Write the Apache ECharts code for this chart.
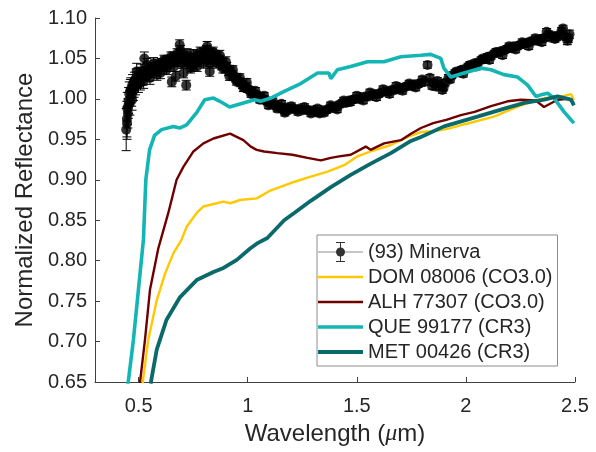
<!DOCTYPE html>
<html>
<head>
<meta charset="utf-8">
<title>Minerva reflectance</title>
<script src="https://cdn.jsdelivr.net/npm/echarts@6/dist/echarts.min.js"></script>
<style>
  html, body { margin: 0; padding: 0; background: #fff; }
  #chart { width: 596px; height: 452px; }
</style>
</head>
<body>
<div id="chart"></div>
<script>
// (93) Minerva: wavelength, normalized reflectance, error
const minervaWl = [0.443, 0.446, 0.448, 0.451, 0.454, 0.457, 0.460, 0.464, 0.468, 0.472, 0.476, 0.481, 0.486, 0.491, 0.496,
  0.502, 0.508, 0.514, 0.520, 0.526, 0.532, 0.540, 0.548, 0.556, 0.564, 0.572, 0.580, 0.588, 0.596, 0.604, 0.612, 0.620,
  0.628, 0.636, 0.644, 0.652, 0.658, 0.664, 0.670, 0.676, 0.682, 0.688, 0.694, 0.700, 0.706, 0.712, 0.718, 0.724, 0.730,
  0.736, 0.742, 0.748, 0.754, 0.760, 0.766, 0.772, 0.778, 0.784, 0.790, 0.796, 0.802, 0.808, 0.814, 0.820, 0.826, 0.832,
  0.838, 0.844, 0.850, 0.856, 0.862, 0.868, 0.874, 0.880, 0.888, 0.896, 0.904, 0.912, 0.920, 0.928, 0.936, 0.944, 0.952,
  0.960, 0.968, 0.976, 0.984, 0.992, 1.000, 1.010, 1.020, 1.030, 1.040, 1.050, 1.060, 1.070, 1.080, 1.090, 1.100, 1.110,
  1.120, 1.130, 1.140, 1.150, 1.160, 1.170, 1.180, 1.195, 1.210, 1.225, 1.240, 1.255, 1.270, 1.285, 1.300, 1.315, 1.330,
  1.345, 1.360, 1.375, 1.390, 1.405, 1.420, 1.435, 1.450, 1.465, 1.480, 1.495, 1.510, 1.525, 1.540, 1.555, 1.570, 1.585,
  1.600, 1.615, 1.630, 1.645, 1.660, 1.675, 1.690, 1.705, 1.720, 1.735, 1.750, 1.765, 1.780, 1.795, 1.810, 1.824, 1.835,
  1.850, 1.865, 1.880, 1.892, 1.905, 1.920, 1.935, 1.950, 1.965, 1.980, 1.995, 2.010, 2.025, 2.040, 2.055, 2.070, 2.085,
  2.100, 2.115, 2.130, 2.145, 2.160, 2.175, 2.190, 2.205, 2.220, 2.235, 2.250, 2.265, 2.280, 2.295, 2.310, 2.325, 2.340,
  2.355, 2.370, 2.385, 2.400, 2.415, 2.430, 2.445, 2.455, 2.465, 2.475,
  // second pass of readings through the dense band (scatter above/below the centre)
  0.447, 0.453, 0.462, 0.470, 0.479, 0.489, 0.499, 0.511, 0.523, 0.537, 0.552, 0.568, 0.584, 0.600, 0.616, 0.632, 0.648,
  0.662, 0.678, 0.692, 0.708, 0.722, 0.738, 0.752, 0.768, 0.782, 0.798, 0.812, 0.828, 0.842, 0.858, 0.872, 0.886, 0.900,
  0.916, 0.932, 0.948, 0.964, 0.980, 0.996, 1.015, 1.035, 1.055, 1.075, 1.095, 1.115, 1.135, 1.155, 1.175, 1.200, 1.230,
  1.260, 1.290, 1.320, 1.350, 1.380, 1.410, 1.440, 1.470, 1.500, 1.530, 1.560, 1.590, 1.620, 1.650, 1.680, 1.710, 1.740,
  1.770, 1.800, 1.845, 1.870, 1.898, 1.928, 1.958, 1.988, 2.018, 2.048, 2.078, 2.108, 2.138, 2.168, 2.198, 2.228, 2.258,
  2.288, 2.318, 2.348, 2.378, 2.408, 2.438, 2.470];
const minervaRefl = [0.962, 0.975, 0.988, 0.982, 0.998, 1.006, 0.995, 1.012, 1.004, 1.018, 1.010, 1.022, 1.016, 1.034, 1.024,
  1.028, 1.020, 1.030, 1.026, 1.050, 1.032, 1.036, 1.030, 1.038, 1.034, 1.040, 1.036, 1.042, 1.038, 1.044, 1.040, 1.046,
  1.036, 1.048, 1.044, 1.021, 1.052, 1.046, 1.028, 1.056, 1.050, 1.067, 1.054, 1.044, 1.032, 1.052, 1.017, 1.048, 1.044,
  1.050, 1.040, 1.046, 1.042, 1.050, 1.046, 1.052, 1.048, 1.054, 1.050, 1.056, 1.052, 1.058, 1.065, 1.048, 1.034, 1.052,
  1.056, 1.050, 1.054, 1.048, 1.052, 1.046, 1.048, 1.042, 1.044, 1.038, 1.040, 1.034, 1.034, 1.030, 1.028, 1.026, 1.024,
  1.021, 1.020, 1.018, 1.015, 1.015, 1.012, 1.011, 1.008, 1.006, 1.005, 1.002, 1.002, 1.000, 0.998, 0.997, 0.995, 0.994,
  0.993, 0.991, 0.991, 0.990, 0.987, 0.983, 0.989, 0.987, 0.988, 0.987, 0.988, 0.986, 0.987, 0.985, 0.986, 0.984, 0.982,
  0.986, 0.986, 0.988, 0.990, 0.990, 0.993, 0.995, 0.995, 0.998, 0.999, 1.000, 1.000, 1.002, 1.003, 1.003, 1.005, 1.006,
  1.006, 1.008, 1.009, 1.009, 1.011, 1.011, 1.013, 1.013, 1.015, 1.016, 1.016, 1.018, 1.018, 1.020, 1.021, 1.042, 1.026,
  1.020, 1.015, 1.018, 1.011, 1.020, 1.026, 1.029, 1.032, 1.033, 1.036, 1.037, 1.040, 1.041, 1.044, 1.045, 1.048, 1.049,
  1.052, 1.053, 1.056, 1.057, 1.059, 1.060, 1.062, 1.063, 1.065, 1.065, 1.067, 1.068, 1.069, 1.071, 1.072, 1.072, 1.074,
  1.075, 1.083, 1.076, 1.078, 1.076, 1.079, 1.087, 1.077, 1.072, 1.080,
  0.970, 0.992, 1.010, 0.999, 1.014, 1.026, 1.018, 1.034, 1.022, 1.042, 1.026, 1.044, 1.030, 1.032, 1.048, 1.040, 1.052,
  1.040, 1.046, 1.060, 1.046, 1.056, 1.038, 1.055, 1.040, 1.058, 1.044, 1.060, 1.044, 1.058, 1.044, 1.054, 1.038, 1.046,
  1.028, 1.036, 1.022, 1.026, 1.014, 1.020, 1.006, 1.010, 0.999, 1.004, 0.992, 0.997, 0.988, 0.994, 0.985, 0.991, 0.984,
  0.990, 0.982, 0.988, 0.983, 0.992, 0.987, 0.998, 0.996, 1.004, 0.998, 1.008, 1.002, 1.012, 1.006, 1.016, 1.010, 1.019,
  1.014, 1.024, 1.016, 1.022, 1.014, 1.024, 1.034, 1.031, 1.042, 1.040, 1.050, 1.048, 1.058, 1.054, 1.065, 1.061, 1.070,
  1.065, 1.075, 1.070, 1.080, 1.074, 1.084, 1.075];
const minervaErr = [0.026, 0.022, 0.020, 0.018, 0.016, 0.015, 0.015, 0.014, 0.013, 0.012, 0.012, 0.011, 0.011, 0.010, 0.010,
  0.010, 0.009, 0.009, 0.009, 0.008, 0.008, 0.008, 0.008, 0.007, 0.007, 0.007, 0.007, 0.007, 0.007, 0.006, 0.006, 0.006,
  0.006, 0.006, 0.006, 0.006, 0.006, 0.006, 0.006, 0.006, 0.006, 0.006, 0.006, 0.006, 0.006, 0.006, 0.006, 0.006, 0.006,
  0.006, 0.006, 0.006, 0.006, 0.006, 0.006, 0.006, 0.006, 0.006, 0.006, 0.006, 0.006, 0.006, 0.006, 0.006, 0.006, 0.006,
  0.006, 0.006, 0.006, 0.006, 0.006, 0.006, 0.006, 0.006, 0.006, 0.006, 0.005, 0.005, 0.005, 0.005, 0.005, 0.005, 0.005,
  0.005, 0.005, 0.005, 0.005, 0.005, 0.004, 0.004, 0.004, 0.004, 0.004, 0.004, 0.004, 0.004, 0.004, 0.004, 0.004, 0.004,
  0.004, 0.004, 0.004, 0.004, 0.004, 0.004, 0.004, 0.004, 0.004, 0.004, 0.004, 0.004, 0.004, 0.004, 0.004, 0.004, 0.004,
  0.004, 0.004, 0.004, 0.004, 0.004, 0.004, 0.004, 0.004, 0.004, 0.004, 0.004, 0.004, 0.004, 0.004, 0.004, 0.004, 0.004,
  0.004, 0.004, 0.004, 0.004, 0.004, 0.004, 0.004, 0.004, 0.004, 0.004, 0.004, 0.004, 0.004, 0.004, 0.004, 0.004, 0.004,
  0.004, 0.004, 0.004, 0.004, 0.004, 0.004, 0.004, 0.004, 0.004, 0.004, 0.004, 0.004, 0.004, 0.004, 0.004, 0.004, 0.004,
  0.004, 0.004, 0.004, 0.004, 0.004, 0.004, 0.004, 0.004, 0.004, 0.004, 0.004, 0.004, 0.004, 0.004, 0.004, 0.004, 0.004,
  0.004, 0.004, 0.004, 0.004, 0.004, 0.004, 0.004, 0.004, 0.005, 0.005,
  0.020, 0.016, 0.014, 0.013, 0.012, 0.011, 0.010, 0.009, 0.009, 0.008, 0.008, 0.007, 0.007, 0.007, 0.006, 0.006, 0.006,
  0.006, 0.006, 0.006, 0.006, 0.006, 0.006, 0.006, 0.006, 0.006, 0.006, 0.006, 0.006, 0.006, 0.006, 0.006, 0.006, 0.006,
  0.005, 0.005, 0.005, 0.005, 0.005, 0.005, 0.004, 0.004, 0.004, 0.004, 0.004, 0.004, 0.004, 0.004, 0.004, 0.004, 0.004,
  0.004, 0.004, 0.004, 0.004, 0.004, 0.004, 0.004, 0.004, 0.004, 0.004, 0.004, 0.004, 0.004, 0.004, 0.004, 0.004, 0.004,
  0.004, 0.004, 0.004, 0.004, 0.004, 0.004, 0.004, 0.004, 0.004, 0.004, 0.004, 0.004, 0.004, 0.004, 0.004, 0.004, 0.004,
  0.004, 0.004, 0.004, 0.004, 0.004, 0.004, 0.005];

// DOM 08006 (CO3.0)
const domWl = [0.518, 0.544, 0.583, 0.621, 0.659, 0.697, 0.720, 0.766, 0.797, 0.858, 0.889, 0.920, 0.965, 1.041, 1.106,
  1.197, 1.289, 1.366, 1.442, 1.503, 1.564, 1.656, 1.733, 1.794, 1.850, 1.916, 2.000, 2.128, 2.252, 2.358, 2.440, 2.482, 2.495];
const domRefl = [0.648, 0.702, 0.751, 0.784, 0.809, 0.826, 0.842, 0.859, 0.867, 0.871, 0.873, 0.871, 0.875, 0.877, 0.887,
  0.896, 0.904, 0.910, 0.918, 0.929, 0.935, 0.943, 0.953, 0.959, 0.960, 0.963, 0.969, 0.978, 0.992, 1.001, 1.003, 1.006, 0.999];

// ALH 77307 (CO3.0)
const alhWl = [0.506, 0.529, 0.552, 0.590, 0.636, 0.674, 0.705, 0.751, 0.797, 0.843, 0.919, 0.980, 1.014, 1.041, 1.075,
  1.136, 1.205, 1.274, 1.335, 1.381, 1.419, 1.472, 1.541, 1.563, 1.625, 1.702, 1.748, 1.794, 1.850, 1.910, 1.977, 2.040,
  2.115, 2.191, 2.252, 2.320, 2.358, 2.420, 2.470, 2.495];
const alhRefl = [0.649, 0.702, 0.764, 0.815, 0.859, 0.900, 0.916, 0.935, 0.945, 0.951, 0.957, 0.949, 0.941, 0.937, 0.935,
  0.933, 0.931, 0.927, 0.924, 0.927, 0.929, 0.931, 0.941, 0.937, 0.945, 0.949, 0.957, 0.964, 0.970, 0.974, 0.980, 0.984,
  0.991, 0.997, 0.999, 0.998, 0.990, 0.999, 1.000, 0.995];

// QUE 99177 (CR3)
const queWl = [0.450, 0.476, 0.499, 0.522, 0.533, 0.550, 0.573, 0.605, 0.659, 0.688, 0.720, 0.766, 0.803, 0.843, 0.872,
  0.917, 0.980, 1.032, 1.060, 1.106, 1.165, 1.243, 1.320, 1.372, 1.381, 1.411, 1.472, 1.549, 1.624, 1.702, 1.794, 1.839,
  1.885, 1.899, 1.931, 1.991, 2.069, 2.115, 2.174, 2.237, 2.283, 2.321, 2.344, 2.375, 2.404, 2.450, 2.495];
const queRefl = [0.645, 0.702, 0.764, 0.826, 0.900, 0.937, 0.955, 0.962, 0.966, 0.964, 0.968, 0.983, 0.999, 1.001, 0.997,
  0.990, 0.995, 0.999, 0.997, 1.001, 1.009, 1.019, 1.032, 1.032, 1.025, 1.036, 1.040, 1.046, 1.046, 1.052, 1.054, 1.055,
  1.050, 1.038, 1.027, 1.032, 1.038, 1.036, 1.030, 1.027, 1.017, 1.003, 1.005, 1.007, 1.001, 0.984, 0.970];

// MET 00426 (CR3)
const metWl = [0.555, 0.583, 0.628, 0.690, 0.766, 0.843, 0.889, 0.950, 1.011, 1.041, 1.090, 1.167, 1.213, 1.289, 1.381,
  1.472, 1.564, 1.656, 1.748, 1.794, 1.900, 2.053, 2.176, 2.268, 2.359, 2.420, 2.482, 2.495];
const metRefl = [0.648, 0.690, 0.727, 0.755, 0.776, 0.786, 0.791, 0.801, 0.815, 0.821, 0.828, 0.850, 0.859, 0.874, 0.891,
  0.906, 0.920, 0.933, 0.948, 0.953, 0.966, 0.978, 0.988, 0.995, 0.999, 1.003, 0.999, 0.992];

const xTicks = [0.5, 1, 1.5, 2, 2.5];

const FONT = '"Liberation Sans", Arial, Helvetica, sans-serif';
const TEXT = '#262626';

const COLORS = { dom: '#FFC800', alh: '#6E0000', que: '#14B5B5', met: '#0A6A6A' };
const WIDTHS = { dom: 2.4, alh: 2.4, que: 3.6, met: 3.8 };

function pairs(xs, ys) {
  return xs.map((x, i) => [x, ys[i]]);
}

function svgIcon(body) {
  const svg = "<svg xmlns='http://www.w3.org/2000/svg' width='45' height='20' viewBox='0 0 45 20'>" + body + '</svg>';
  return 'image://data:image/svg+xml;charset=utf-8,' + encodeURIComponent(svg);
}
function lineIcon(color, width) {
  return svgIcon("<line x1='0' y1='10' x2='45' y2='10' stroke='" + color + "' stroke-width='" + width + "'/>");
}
// errorbar legend: gray line, dot, bar with caps
const minervaIcon = svgIcon(
  "<line x1='0' y1='10' x2='45' y2='10' stroke='#707070' stroke-width='1.2'/>" +
  "<line x1='22.5' y1='0.5' x2='22.5' y2='19.5' stroke='#000' stroke-width='1'/>" +
  "<line x1='18' y1='0.5' x2='27' y2='0.5' stroke='#000' stroke-width='1'/>" +
  "<line x1='18' y1='19.5' x2='27' y2='19.5' stroke='#000' stroke-width='1'/>" +
  "<circle cx='22.5' cy='10' r='4.5' fill='#000'/>");

function renderErrorBar(params, api) {
  const x = api.value(0), y = api.value(1), e = api.value(2);
  const top = api.coord([x, y + e]);
  const bot = api.coord([x, y - e]);
  const w = 4.5;
  const style = { stroke: '#000', lineWidth: 1 };
  return {
    type: 'group',
    children: [
      { type: 'line', shape: { x1: top[0], y1: top[1], x2: bot[0], y2: bot[1] }, style: style },
      { type: 'line', shape: { x1: top[0] - w, y1: top[1], x2: top[0] + w, y2: top[1] }, style: style },
      { type: 'line', shape: { x1: bot[0] - w, y1: bot[1], x2: bot[0] + w, y2: bot[1] }, style: style }
    ]
  };
}

function spectrum(name, key, xs, ys) {
  return {
    name: name,
    type: 'line',
    data: pairs(xs, ys),
    symbol: 'none',
    lineStyle: { color: COLORS[key], width: WIDTHS[key] },
    itemStyle: { color: COLORS[key] },
    z: 3
  };
}

const chart = echarts.init(document.getElementById('chart'));

const option = {
  animation: false,
  backgroundColor: '#fff',
  textStyle: { fontFamily: FONT, color: TEXT },
  grid: { left: 95, right: 21, top: 18, bottom: 70 },
  legend: {
    orient: 'vertical',
    left: 317,
    top: 235,
    padding: [7, 5, 4, 1],
    itemGap: 5,
    itemWidth: 45,
    itemHeight: 20,
    backgroundColor: '#fff',
    borderColor: '#8c8c8c',
    borderWidth: 1,
    textStyle: { fontFamily: FONT, fontSize: 20, color: TEXT },
    data: [
      { name: '(93) Minerva', icon: minervaIcon },
      { name: 'DOM 08006 (CO3.0)', icon: lineIcon(COLORS.dom, WIDTHS.dom) },
      { name: 'ALH 77307 (CO3.0)', icon: lineIcon(COLORS.alh, WIDTHS.alh) },
      { name: 'QUE 99177 (CR3)', icon: lineIcon(COLORS.que, WIDTHS.que) },
      { name: 'MET 00426 (CR3)', icon: lineIcon(COLORS.met, WIDTHS.met) }
    ]
  },
  xAxis: {
    type: 'value',
    min: 0.3,
    max: 2.5,
    name: 'Wavelength ({i|μ}m)',
    nameLocation: 'middle',
    nameGap: 40,
    nameTextStyle: {
      fontFamily: FONT, fontSize: 24, color: TEXT,
      rich: { i: { fontFamily: '"Liberation Serif", serif', fontStyle: 'italic', fontSize: 24, color: TEXT } }
    },
    axisLine: { show: true, lineStyle: { color: '#404040', width: 1 } },
    axisTick: { show: true, inside: true, length: 5, customValues: xTicks, lineStyle: { color: '#404040' } },
    axisLabel: { fontFamily: FONT, fontSize: 20, color: TEXT, margin: 14, customValues: xTicks },
    splitLine: { show: false }
  },
  yAxis: {
    type: 'value',
    min: 0.65,
    max: 1.10,
    interval: 0.05,
    name: 'Normalized Reflectance',
    nameLocation: 'middle',
    nameGap: 52,
    nameTextStyle: { fontFamily: FONT, fontSize: 24, color: TEXT },
    axisLine: { show: true, lineStyle: { color: '#404040', width: 1 } },
    axisTick: { show: true, inside: true, length: 5, lineStyle: { color: '#404040' } },
    axisLabel: {
      fontFamily: FONT, fontSize: 20, color: TEXT, margin: 8,
      formatter: v => v.toFixed(2)
    },
    splitLine: { show: false }
  },
  series: [
    {
      name: 'minerva-err',
      type: 'custom',
      renderItem: renderErrorBar,
      dimensions: ['wl', 'refl', 'err'],
      encode: { x: 0, y: 1 },
      data: minervaWl.map((x, i) => [x, minervaRefl[i], minervaErr[i]]),
      silent: true,
      z: 2
    },
    {
      name: '(93) Minerva',
      type: 'scatter',
      data: pairs(minervaWl, minervaRefl),
      symbol: 'circle',
      symbolSize: 10,
      itemStyle: { color: '#000' },
      z: 2
    },
    spectrum('DOM 08006 (CO3.0)', 'dom', domWl, domRefl),
    spectrum('ALH 77307 (CO3.0)', 'alh', alhWl, alhRefl),
    spectrum('QUE 99177 (CR3)', 'que', queWl, queRefl),
    spectrum('MET 00426 (CR3)', 'met', metWl, metRefl)
  ]
};

chart.setOption(option);
</script>
</body>
</html>
